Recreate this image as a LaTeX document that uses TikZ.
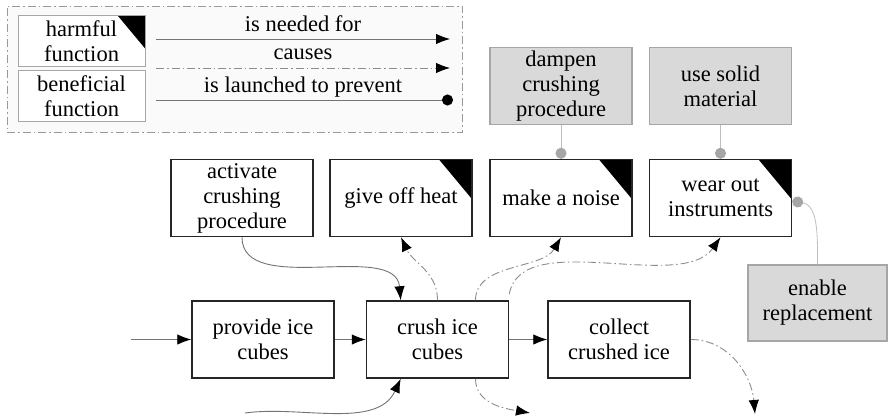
\documentclass[tikz,border=0pt]{standalone}
\usepackage{fontspec}
\setmainfont{Liberation Serif}
\newfontfamily\diagfont{Liberation Serif}
\usetikzlibrary{arrows.meta,calc}
\tikzset{
  fbox/.style={draw=black!85, line width=1.5pt, fill=white, minimum width=142pt, minimum height=77pt, align=center, inner sep=1pt},
  gbox/.style={draw=black!35, line width=1.2pt, fill=black!15, minimum width=142pt, minimum height=77pt, align=center, inner sep=1pt},
  lbox/.style={draw=black!35, line width=1pt, fill=white, minimum width=127pt, minimum height=51pt, align=center, inner sep=1pt},
  harm/.style={path picture={\fill[black] (path picture bounding box.north east) -- ++(-#1pt,0pt) -- ++(#1pt,-1.2*#1pt) -- cycle;}},
  need/.style={draw=black!55, line width=0.9pt, -{Latex[length=14pt,width=10.5pt,color=black]}},
  cause/.style={draw=black!45, line width=0.9pt, dash pattern=on 8pt off 3pt on 1.5pt off 3pt, -{Latex[length=14pt,width=10.5pt,color=black]}},
  prev/.style={draw=black!25, line width=0.8pt, -{Circle[length=11pt,color=black!35]}},
  legframe/.style={draw=black!40, fill=black!2, line width=0.8pt, dash pattern=on 8pt off 3pt on 1.5pt off 3pt, minimum width=455pt, minimum height=126pt, inner sep=0pt},
  ltext/.style={inner sep=0pt}
}
\begin{document}
\begin{tikzpicture}[x=1pt,y=-1pt,font=\diagfont\fontsize{22.5}{25}\selectfont]
\useasboundingbox (0,0) rectangle (888,417);
% legend
\node[legframe] (legend) at (234.5,69) {};
\node[lbox,harm=27] (lharm) at (81.5,41.5) {harmful\\function};
\node[lbox] (lben) at (81.5,96.5) {beneficial\\function};
\coordinate (l1a) at (156,39); \coordinate (l1b) at (450,39);
\coordinate (l2a) at (156,68); \coordinate (l2b) at (450,68);
\coordinate (l3a) at (156,100); \coordinate (l3b) at (453,100);
\draw[need] (l1a) -- (l1b);
\draw[cause] (l2a) -- (l2b);
\draw[draw=black!55, line width=0.9pt, -{Circle[length=11pt,color=black]}] (l3a) -- (l3b);
\node[ltext] (t1) at (303,24) {is needed for};
\node[ltext] (t2) at (303,54) {causes};
\node[ltext] (t3) at (303,87) {is launched to prevent};
% gray boxes
\node[gbox] (damp) at (561,86) {dampen\\crushing\\procedure};
\node[gbox] (solid) at (720.5,86) {use solid\\material};
\node[gbox, minimum width=139pt, minimum height=76pt] (enable) at (817.5,303) {enable\\replacement};
% middle row
\node[fbox] (act) at (242,198) {activate\\crushing\\procedure};
\node[fbox,harm=33] (heat) at (401,198) {give off heat};
\node[fbox,harm=33] (noise) at (561,198) {make a noise};
\node[fbox,harm=33] (wear) at (720.5,198) {wear out\\instruments};
% bottom row
\node[fbox] (provide) at (263,339.5) {provide ice\\cubes};
\node[fbox] (crush) at (437.5,339.5) {crush ice\\cubes};
\node[fbox] (collect) at (619,339.5) {collect\\crushed ice};
% connectors
\coordinate (in1) at (131,339.5);
\coordinate (bin) at (245,413);
\coordinate (out1) at (530,413);
\coordinate (out2) at (755,414);
\draw[need] (in1) -- (provide.west);
\draw[need] (provide.east) -- (crush.west);
\draw[need] (crush.east) -- (collect.west);
\draw[need] (act.south) to[out=-90,in=95,looseness=0.9] ([xshift=35pt]crush.north west);
\draw[need] (bin) to[out=8,in=-115,looseness=0.9] ([xshift=35pt]crush.south west);
\draw[cause] (crush.north) to[out=90,in=-65,looseness=1] (heat.south);
\draw[cause] ([xshift=38pt]crush.north) to[out=90,in=-120,looseness=0.9] (noise.south);
\draw[cause] ([yshift=6pt]crush.north east) to[out=80,in=-125,looseness=0.8] (wear.south);
\draw[cause] ([xshift=38pt]crush.south) to[out=-90,in=170,looseness=1] (out1);
\draw[cause] (collect.east) to[out=0,in=95,looseness=1] (out2);
\draw[prev] (damp.south) -- (noise.north);
\draw[prev] (solid.south) -- (wear.north);
\draw[prev] (enable.north) to[out=90,in=-10,looseness=1] ([yshift=-3pt]wear.east);
\end{tikzpicture}
\end{document}
